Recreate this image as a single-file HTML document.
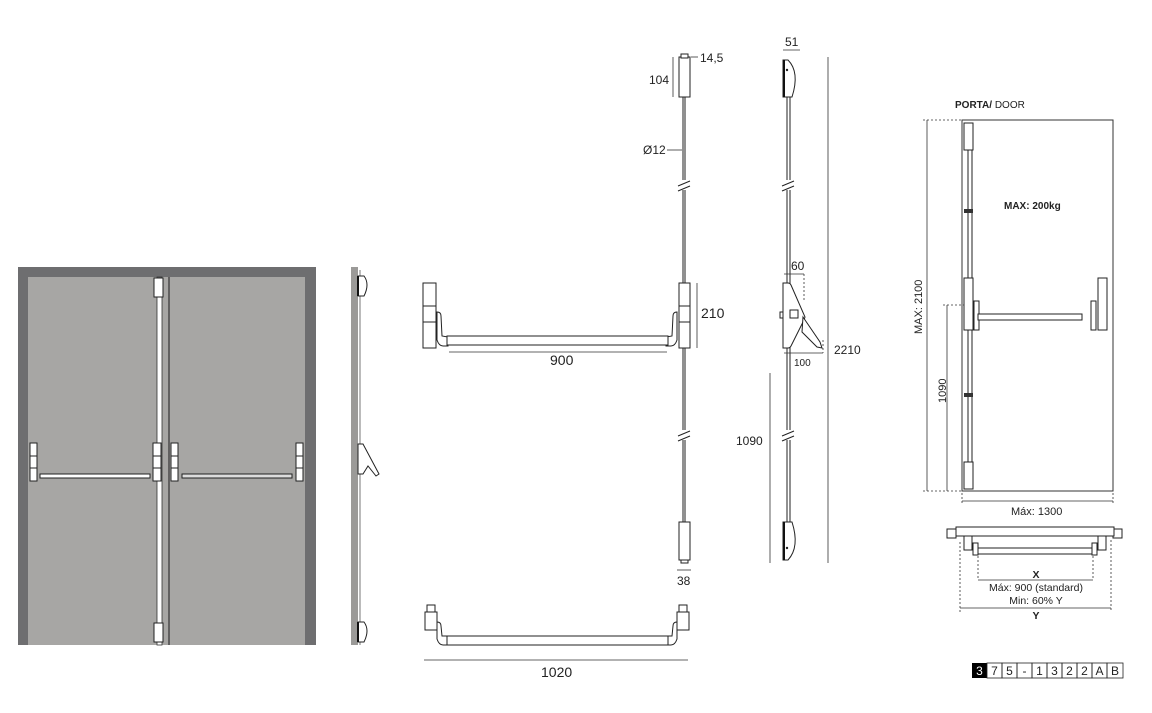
<!DOCTYPE html>
<html><head><meta charset="utf-8"><style>
html,body{margin:0;padding:0;background:#fff;}
svg{display:block;font-family:"Liberation Sans",sans-serif;}
</style></head><body>
<svg width="1152" height="713" viewBox="0 0 1152 713" xmlns="http://www.w3.org/2000/svg">
<!-- Double door -->
<rect x="18" y="267" width="298" height="378" fill="#6e6e70"/>
<rect x="28" y="277" width="277" height="368" fill="#a7a6a4"/>
<line x1="169" y1="277" x2="169" y2="645" stroke="#333" stroke-width="1.2"/>
<rect x="157" y="277" width="5" height="368" fill="#fff" stroke="#333" stroke-width="0.8"/>
<rect x="154" y="278" width="9" height="19" fill="#fff" stroke="#222"/>
<rect x="154" y="623" width="9" height="19" fill="#fff" stroke="#222"/>
<g stroke="#222" fill="#fff">
<rect x="30" y="443" width="7" height="38"/><line x1="30" y1="456" x2="37" y2="456"/><line x1="30" y1="468" x2="37" y2="468"/>
<rect x="153" y="443" width="8" height="38"/><line x1="153" y1="456" x2="161" y2="456"/><line x1="153" y1="468" x2="161" y2="468"/>
<rect x="40" y="474" width="110" height="4"/>
<rect x="171" y="443" width="7" height="38"/><line x1="171" y1="456" x2="178" y2="456"/><line x1="171" y1="468" x2="178" y2="468"/>
<rect x="296" y="443" width="7" height="38"/><line x1="296" y1="456" x2="303" y2="456"/><line x1="296" y1="468" x2="303" y2="468"/>
<rect x="182" y="474" width="110" height="4" fill="#ddd"/>
</g>
<!-- side profile -->
<rect x="351" y="267" width="7" height="378" fill="#9b9a98"/>
<line x1="360" y1="270" x2="360" y2="645" stroke="#555" stroke-width="0.8"/>
<path d="M358 276 h6 q6 8 0 20 h-6z" fill="#fff" stroke="#222"/>
<rect x="357" y="276" width="2" height="20" fill="#111"/>
<path d="M358 622 h6 q6 8 0 20 h-6z" fill="#fff" stroke="#222"/>
<rect x="357" y="622" width="2" height="20" fill="#111"/>
<path d="M358 444 l5 0 l8 15 l8 15 l-3 2 l-8 -10 l-5 8 h-5z" fill="#fff" stroke="#222"/>
<!-- middle front view -->
<g stroke="#222" fill="#fff" stroke-width="1">
<line x1="684" y1="97" x2="684" y2="522" stroke-width="3"/>
<line x1="684" y1="97" x2="684" y2="522" stroke="#fff" stroke-width="1"/>
<rect x="679" y="57" width="11" height="40"/>
<rect x="681" y="54" width="7" height="4"/>
<rect x="679" y="522" width="11" height="38"/>
<rect x="681" y="560" width="7" height="3"/>
<rect x="679" y="283" width="11" height="65"/><line x1="679" y1="306" x2="690" y2="306"/><line x1="679" y1="322" x2="690" y2="322"/>
<rect x="423" y="283" width="13" height="65"/><line x1="423" y1="306" x2="436" y2="306"/><line x1="423" y1="322" x2="436" y2="322"/>
<path d="M437 312 q4 0 4 4 l1 20 l6 1 v9 h-5 q-4 0 -6 -6z"/>
<path d="M677 312 q-4 0 -4 4 l-1 20 l-6 1 v9 h5 q4 0 6 -6z"/>
<rect x="447" y="336" width="221" height="9"/>
</g>
<rect x="676" y="180" width="16" height="10" fill="#fff"/>
<path d="M678 186 l12 -5 M678 191 l12 -5" stroke="#222"/>
<rect x="676" y="430" width="16" height="10" fill="#fff"/>
<path d="M678 436 l12 -5 M678 441 l12 -5" stroke="#222"/>
<g stroke="#333" stroke-width="0.8">
<line x1="673" y1="57" x2="673" y2="97"/><line x1="691" y1="57" x2="698" y2="57"/>
<line x1="667" y1="150" x2="682" y2="150"/>
<line x1="697" y1="283" x2="697" y2="348"/>
<line x1="449" y1="352" x2="667" y2="352"/>
<line x1="677" y1="570" x2="691" y2="570"/>
<line x1="424" y1="660" x2="688" y2="660"/>
</g>
<g font-size="12" fill="#222">
<text x="700" y="62">14,5</text>
<text x="649" y="84">104</text>
<text x="643" y="154">Ø12</text>
<text x="701" y="318" font-size="14">210</text>
<text x="550" y="365" font-size="14">900</text>
<text x="677" y="585">38</text>
<text x="541" y="677" font-size="14">1020</text>
</g>
<!-- bottom bar -->
<g stroke="#222" fill="#fff">
<rect x="425" y="612" width="12" height="18"/><rect x="427" y="605" width="8" height="7"/>
<rect x="677" y="612" width="12" height="18"/><rect x="679" y="605" width="8" height="7"/>
<path d="M437 622 q4 0 4 4 l1 10 l6 0 v9 h-5 q-4 0 -6 -6z"/>
<path d="M677 622 q-4 0 -4 4 l-1 10 l-6 0 v9 h5 q4 0 6 -6z"/>
<rect x="447" y="636" width="221" height="9"/>
</g>
<!-- side view -->
<g stroke="#222" fill="#fff">
<line x1="787" y1="95" x2="787" y2="525"/><line x1="790" y1="95" x2="790" y2="525"/>
<path d="M783 60 h5 q12 12 4 37 h-9z"/>
<path d="M783 522 h9 q8 25 -4 38 h-5z"/>
<path d="M783 283 h5 q2 0 3 2 l14 32 l-1 3 l-6 12 l-7 14 q-1 2 -3 2 h-5z"/>
<path d="M803 317 l17 25 l2 6 l-5 -1 l-15 -15z"/>
<rect x="790" y="310" width="8" height="8"/>
<rect x="780" y="312" width="3" height="6"/>
</g>
<rect x="783" y="60" width="2" height="37" fill="#111"/>
<rect x="783" y="522" width="2" height="38" fill="#111"/>
<rect x="780" y="180" width="16" height="10" fill="#fff"/>
<path d="M782 186 l12 -5 M782 191 l12 -5" stroke="#222"/>
<rect x="780" y="430" width="16" height="10" fill="#fff"/>
<path d="M782 436 l12 -5 M782 441 l12 -5" stroke="#222"/>
<circle cx="787" cy="70" r="1.2" fill="#222"/><circle cx="787" cy="548" r="1.2" fill="#222"/>
<g stroke="#333" stroke-width="0.8">
<line x1="783" y1="50" x2="800" y2="50"/>
<line x1="828" y1="57" x2="828" y2="563"/>
<line x1="770" y1="373" x2="770" y2="563"/>
<line x1="784" y1="274" x2="804" y2="274"/>
<line x1="804" y1="274" x2="804" y2="300" stroke-dasharray="2,2"/>
<line x1="784" y1="353" x2="823" y2="353"/>
<line x1="823" y1="340" x2="823" y2="353" stroke-dasharray="2,2"/>
</g>
<g font-size="12" fill="#222">
<text x="785" y="46">51</text>
<text x="791" y="270">60</text>
<text x="794" y="366" font-size="10">100</text>
<text x="834" y="354">2210</text>
<text x="736" y="445">1090</text>
</g>
<!-- Right door -->
<text x="955" y="108" font-size="10" fill="#222"><tspan font-weight="bold">PORTA/</tspan> DOOR</text>
<rect x="962" y="120" width="151" height="371" fill="#fff" stroke="#333"/>
<g stroke="#222" fill="#fff">
<line x1="968" y1="150" x2="968" y2="462"/><line x1="972" y1="150" x2="972" y2="462"/>
<rect x="964" y="123" width="9" height="27"/>
<rect x="964" y="278" width="9" height="52"/>
<rect x="964" y="462" width="9" height="27"/>
<rect x="974" y="301" width="5" height="29"/>
<rect x="978" y="314" width="104" height="6"/>
<rect x="1091" y="301" width="5" height="29"/>
<rect x="1098" y="278" width="9" height="52"/>
</g>
<rect x="964" y="209" width="9" height="4" fill="#333"/>
<rect x="964" y="393" width="9" height="4" fill="#333"/>
<g stroke="#333" stroke-width="0.8">
<line x1="927" y1="120" x2="927" y2="491"/>
<line x1="947" y1="305" x2="947" y2="491"/>
<line x1="923" y1="120" x2="962" y2="120" stroke-dasharray="2,2"/>
<line x1="923" y1="491" x2="962" y2="491" stroke-dasharray="2,2"/>
<line x1="943" y1="305" x2="964" y2="305" stroke-dasharray="2,2"/>
<line x1="962" y1="493" x2="962" y2="503" stroke-dasharray="2,2"/>
<line x1="1113" y1="493" x2="1113" y2="503" stroke-dasharray="2,2"/>
<line x1="962" y1="501" x2="1113" y2="501"/>
</g>
<text x="1004" y="209" font-size="10" font-weight="bold" fill="#222">MAX: 200kg</text>
<text transform="translate(922,334) rotate(-90)" font-size="11" fill="#222">MAX: 2100</text>
<text transform="translate(946,403) rotate(-90)" font-size="11" fill="#222">1090</text>
<text x="1011" y="515" font-size="11" fill="#222">Máx: 1300</text>
<!-- Top section view -->
<g stroke="#222" fill="#fff">
<rect x="947" y="529" width="9" height="9"/>
<rect x="1113" y="529" width="9" height="9"/>
<rect x="956" y="527" width="158" height="9"/>
<rect x="964" y="536" width="8" height="14"/>
<rect x="973" y="543" width="5" height="12"/>
<rect x="1098" y="536" width="8" height="14"/>
<rect x="1092" y="543" width="5" height="12"/>
<rect x="978" y="548" width="114" height="6"/>
</g>
<g stroke="#333" stroke-width="0.8">
<line x1="978" y1="556" x2="978" y2="580" stroke-dasharray="2,2"/>
<line x1="1093" y1="556" x2="1093" y2="580" stroke-dasharray="2,2"/>
<line x1="978" y1="580" x2="1093" y2="580"/>
<line x1="960" y1="542" x2="960" y2="612" stroke-dasharray="2,2"/>
<line x1="1111" y1="540" x2="1111" y2="612" stroke-dasharray="2,2"/>
<line x1="960" y1="608" x2="1111" y2="608"/>
</g>
<g font-size="10.5" fill="#222" text-anchor="middle">
<text x="1036" y="578" font-weight="bold">X</text>
<text x="1036" y="591">Máx: 900 (standard)</text>
<text x="1036" y="604">Min: 60% Y</text>
<text x="1036" y="619" font-weight="bold">Y</text>
</g>
<!-- code -->
<g font-size="12" text-anchor="middle">
<rect x="972" y="663" width="15" height="15" fill="#000"/>
<text x="979.5" y="675" fill="#fff">3</text>
<g fill="none" stroke="#222" stroke-width="0.8">
<rect x="987" y="663" width="15" height="15"/><rect x="1002" y="663" width="15" height="15"/><rect x="1017" y="663" width="15" height="15"/><rect x="1032" y="663" width="15" height="15"/><rect x="1047" y="663" width="15" height="15"/><rect x="1062" y="663" width="15" height="15"/><rect x="1077" y="663" width="15" height="15"/><rect x="1092" y="663" width="15" height="15"/><rect x="1107" y="663" width="16" height="15"/>
</g>
<g fill="#222">
<text x="994.5" y="675">7</text><text x="1009.5" y="675">5</text><text x="1024.5" y="675">-</text><text x="1039.5" y="675">1</text><text x="1054.5" y="675">3</text><text x="1069.5" y="675">2</text><text x="1084.5" y="675">2</text><text x="1099.5" y="675">A</text><text x="1115" y="675">B</text>
</g>
</g>
</svg>
</body></html>
